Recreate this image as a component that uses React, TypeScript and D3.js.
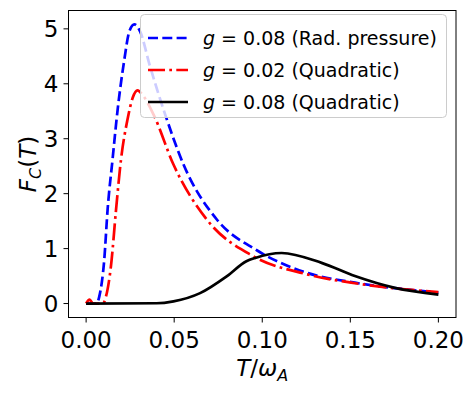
import React from 'react';
import * as d3 from 'd3';

const blueT = [0, 0.006, 0.0075, 0.0103, 0.0122, 0.015, 0.0179, 0.0217, 0.0245, 0.0274, 0.0307, 0.036, 0.0449, 0.0553, 0.0742, 0.0969, 0.1243, 0.1526, 0.181, 0.2];
const blueF = [0, 0, 0.13, 0.8, 1.71, 2.62, 3.53, 4.44, 4.95, 5.08, 4.95, 4.35, 3.44, 2.53, 1.53, 0.97, 0.57, 0.38, 0.26, 0.2];

const redT = [0, 0.002, 0.004, 0.0095, 0.0113, 0.0141, 0.017, 0.0198, 0.0235, 0.0265, 0.0292, 0.032, 0.0383, 0.0496, 0.0685, 0.095, 0.1243, 0.1526, 0.181, 0.2];
const redF = [0, 0.07, 0, 0, 0.13, 0.68, 1.71, 2.62, 3.35, 3.75, 3.88, 3.8, 3.44, 2.53, 1.53, 0.86, 0.54, 0.37, 0.26, 0.21];

const blackT = [0, 0.04, 0.0496, 0.0647, 0.08, 0.091, 0.096, 0.111, 0.1337, 0.1526, 0.1753, 0.2];
const blackF = [0, 0.005, 0.04, 0.19, 0.5, 0.77, 0.83, 0.92, 0.74, 0.5, 0.285, 0.164];

const xTicks = [0, 0.05, 0.1, 0.15, 0.2];
const yTicks = [0, 1, 2, 3, 4, 5];

const series = [
  { label: '0.08', tag: '(Rad. pressure)', T: blueT, F: blueF, color: '#0000ff', dash: '10,4.3' },
  { label: '0.02', tag: '(Quadratic)', T: redT, F: redF, color: '#ff0000', dash: '17,4.3,2.7,4.3' },
  { label: '0.08', tag: '(Quadratic)', T: blackT, F: blackF, color: '#000000', dash: null },
];

const W = 476, H = 393;
const left = 68.5, right = 456, top = 10.5, bottom = 317.5;
const font = 'DejaVu Sans, sans-serif';

export default function App() {
  const x = d3.scaleLinear().domain([-0.01, 0.21]).range([left, right]);
  const y = d3.scaleLinear().domain([-0.254, 5.334]).range([bottom, top]);

  const line = d3.line<[number, number]>()
    .x(d => x(d[0]))
    .y(d => y(d[1]))
    .curve(d3.curveMonotoneX);

  const lg = { x: 140.5, y: 14.5, w: 306, h: 103 };

  return (
    <div style={{ position: 'absolute', left: 0, top: 0 }}>
      <svg width={W} height={H} style={{ display: 'block', background: '#fff' }}>
        <defs>
          <clipPath id="plot">
            <rect x={left} y={top} width={right - left} height={bottom - top} />
          </clipPath>
        </defs>

        <g clipPath="url(#plot)">
          {series.map((s, i) => (
            <path
              key={i}
              d={line(s.T.map((t, j) => [t, s.F[j]] as [number, number])) || ''}
              fill="none"
              stroke={s.color}
              strokeWidth={2.7}
              strokeDasharray={s.dash || undefined}
            />
          ))}
        </g>

        <rect x={left} y={top} width={right - left} height={bottom - top} fill="none" stroke="#000" strokeWidth={1} />

        {xTicks.map(t => (
          <g key={t} transform={`translate(${x(t)},${bottom})`}>
            <line y2={5} stroke="#000" />
            <text y={30} textAnchor="middle" fontFamily={font} fontSize={23} fill="#000">{t.toFixed(2)}</text>
          </g>
        ))}
        {yTicks.map(t => (
          <g key={t} transform={`translate(${left},${y(t)})`}>
            <line x2={-5} stroke="#000" />
            <text x={-10} dy="0.35em" textAnchor="end" fontFamily={font} fontSize={23} fill="#000">{t}</text>
          </g>
        ))}

        <text x={(left + right) / 2} y={376} textAnchor="middle" fontFamily={font} fontSize={23} fill="#000">
          <tspan fontStyle="italic">T</tspan>/<tspan fontStyle="italic">ω</tspan>
          <tspan fontStyle="italic" fontSize={16} dy={5}>A</tspan>
        </text>

        <text transform={`translate(36,${(top + bottom) / 2}) rotate(-90)`} textAnchor="middle" fontFamily={font} fontSize={23} fill="#000">
          <tspan fontStyle="italic">F</tspan>
          <tspan fontStyle="italic" fontSize={16} dy={5}>C</tspan>
          <tspan dy={-5}>(</tspan>
          <tspan fontStyle="italic">T</tspan>
          <tspan>)</tspan>
        </text>

        <g>
          <rect x={lg.x} y={lg.y} width={lg.w} height={lg.h} rx={4} fill="#fff" fillOpacity={0.8} stroke="#cccccc" strokeWidth={1} />
          {series.map((s, i) => {
            const cy = 38 + i * 32;
            return (
              <g key={i}>
                <line x1={148} x2={188} y1={cy} y2={cy} stroke={s.color} strokeWidth={2.7} strokeDasharray={s.dash || undefined} />
                <text x={203} y={cy} dy="0.35em" fontFamily={font} fontSize={19} fill="#000">
                  <tspan fontStyle="italic">g</tspan>
                  <tspan> = {s.label} {s.tag}</tspan>
                </text>
              </g>
            );
          })}
        </g>
      </svg>
    </div>
  );
}
